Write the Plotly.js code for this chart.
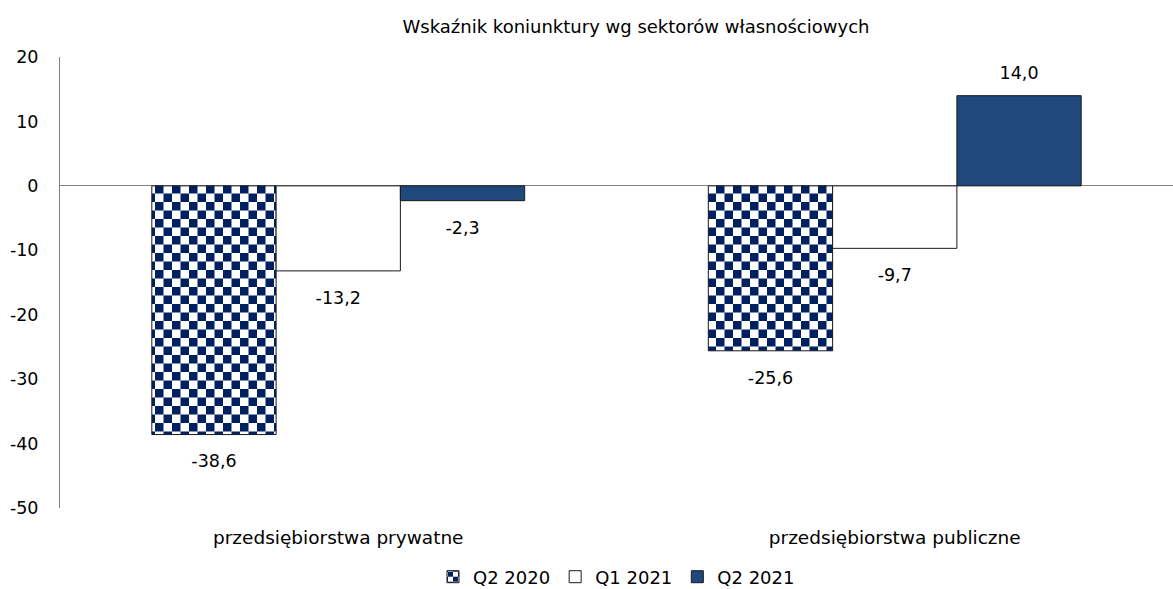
<!DOCTYPE html>
<html>
<head>
<meta charset="utf-8">
<script src="https://cdn.plot.ly/plotly-3.0.1.min.js"></script>
<style>
  html, body { margin: 0; padding: 0; background: #ffffff; }
  #chart { width: 1173px; height: 589px; }
</style>
</head>
<body>
<div id="chart"></div>
<script>
// ---- data ----
var categories = ['przedsiębiorstwa prywatne', 'przedsiębiorstwa publiczne'];
var seriesNames = ['Q2 2020', 'Q1 2021', 'Q2 2021'];
var q2_2020 = [-38.6, -25.6];
var q1_2021 = [-13.2, -9.7];
var q2_2021 = [-2.3, 14.0];
var yTickVals = [-50, -40, -30, -20, -10, 0, 10, 20];
var chartTitle = 'Wskaźnik koniunktury wg sektorów własnościowych';

// ---- styles ----
var FONT = 'DejaVu Sans, Verdana, sans-serif';
var NAVY = '#002060';
var BLUE = '#1F487C';
var seriesValues = [q2_2020, q1_2021, q2_2021];
var fills = [NAVY, '#ffffff', BLUE];

var data = [];
seriesValues.forEach(function (vals, i) {
  data.push({
    type: 'bar',
    name: seriesNames[i],
    x: categories,
    y: vals,
    offsetgroup: 'g' + i,
    marker: { color: fills[i], line: { color: '#1a1a1a', width: 1 } },
    hoverinfo: 'skip'
  });
});
// value labels (offset away from bar ends)
seriesValues.forEach(function (vals, i) {
  data.push({
    type: 'scatter',
    mode: 'markers+text',
    x: categories,
    y: vals,
    offsetgroup: 'g' + i,
    showlegend: false,
    hoverinfo: 'skip',
    cliponaxis: false,
    texttemplate: '%{y:.1f}',
    textposition: vals.map(function (v) { return v < 0 ? 'bottom center' : 'top center'; }),
    textfont: { family: FONT, size: 17.5, color: '#000000' },
    marker: {
      color: 'rgba(0,0,0,0)',
      opacity: 0,
      line: { width: 0, color: 'rgba(0,0,0,0)' },
      size: vals.map(function (v) { return v < 0 ? 30 : 18; })
    }
  });
});

var layout = {
  width: 1173,
  height: 589,
  margin: { l: 60, r: 0, t: 57, b: 81, autoexpand: false },
  paper_bgcolor: '#ffffff',
  plot_bgcolor: '#ffffff',
  separators: ',.',
  barmode: 'group',
  scattermode: 'group',
  bargap: 0.33,
  bargroupgap: 0,
  scattergap: 0.33,
  font: { family: FONT, size: 17, color: '#000000' },
  title: {
    text: chartTitle,
    font: { family: FONT, size: 18, color: '#000000' },
    xref: 'container', x: 636 / 1173, xanchor: 'center',
    yref: 'container', y: 1 - 27 / 589, yanchor: 'middle'
  },
  xaxis: {
    type: 'category',
    showline: false,
    showgrid: false,
    zeroline: false,
    ticks: '',
    ticklabelstandoff: 16,
    tickfont: { family: FONT, size: 18.5, color: '#000000' },
    fixedrange: true
  },
  yaxis: {
    range: [-50, 20],
    tickvals: yTickVals,
    ticktext: yTickVals.map(String),
    showline: true,
    linecolor: '#808080',
    linewidth: 1,
    showgrid: false,
    zeroline: true,
    zerolinecolor: '#808080',
    zerolinewidth: 1,
    ticks: '',
    ticklabelstandoff: 17,
    tickfont: { family: FONT, size: 17.5, color: '#000000' },
    fixedrange: true
  },
  showlegend: true,
  legend: {
    orientation: 'h',
    x: 0.5, xanchor: 'center',
    y: -69 / 451, yanchor: 'middle',
    font: { family: FONT, size: 18, color: '#000000' },
    itemwidth: 30,
    traceorder: 'normal'
  }
};

var gd = document.getElementById('chart');

function applyChecker() {
  var svg = gd.querySelector('svg.main-svg');
  if (!svg) return;
  var defs = svg.querySelector('defs');
  var ns = 'http://www.w3.org/2000/svg';
  if (!svg.querySelector('#checkerPat')) {
    var pat = document.createElementNS(ns, 'pattern');
    pat.setAttribute('id', 'checkerPat');
    pat.setAttribute('patternUnits', 'userSpaceOnUse');
    pat.setAttribute('x', '10');
    pat.setAttribute('y', '9');
    pat.setAttribute('width', '17');
    pat.setAttribute('height', '17');
    var r0 = document.createElementNS(ns, 'rect');
    r0.setAttribute('width', '17'); r0.setAttribute('height', '17'); r0.setAttribute('fill', '#ffffff');
    var r1 = document.createElementNS(ns, 'rect');
    r1.setAttribute('width', '8.5'); r1.setAttribute('height', '8.5'); r1.setAttribute('fill', NAVY);
    var r2 = document.createElementNS(ns, 'rect');
    r2.setAttribute('x', '8.5'); r2.setAttribute('y', '8.5');
    r2.setAttribute('width', '8.5'); r2.setAttribute('height', '8.5'); r2.setAttribute('fill', NAVY);
    pat.appendChild(r0); pat.appendChild(r1); pat.appendChild(r2);
    defs.appendChild(pat);
    var patS = pat.cloneNode(true);
    patS.setAttribute('id', 'checkerPatSmall');
    patS.setAttribute('width', '10'); patS.setAttribute('height', '10');
    patS.setAttribute('x', '-5'); patS.setAttribute('y', '-5');
    var rs = patS.querySelectorAll('rect');
    rs[0].setAttribute('width', '10'); rs[0].setAttribute('height', '10');
    rs[1].setAttribute('width', '5'); rs[1].setAttribute('height', '5');
    rs[2].setAttribute('x', '5'); rs[2].setAttribute('y', '5');
    rs[2].setAttribute('width', '5'); rs[2].setAttribute('height', '5');
    defs.appendChild(patS);
  }
  var barTraces = gd.querySelectorAll('.barlayer .trace.bars');
  if (barTraces.length) {
    barTraces[0].querySelectorAll('.point path').forEach(function (p) {
      p.style.fill = 'url(#checkerPat)';
    });
  }
  var legTraces = gd.querySelectorAll('.legend .traces');
  if (legTraces.length) {
    legTraces[0].querySelectorAll('.legendpoints path').forEach(function (p) {
      p.style.fill = 'url(#checkerPatSmall)';
    });
  }
}

Plotly.newPlot(gd, data, layout, { staticPlot: true, displayModeBar: false }).then(function () {
  applyChecker();
  gd.on('plotly_afterplot', applyChecker);
});
</script>
</body>
</html>
